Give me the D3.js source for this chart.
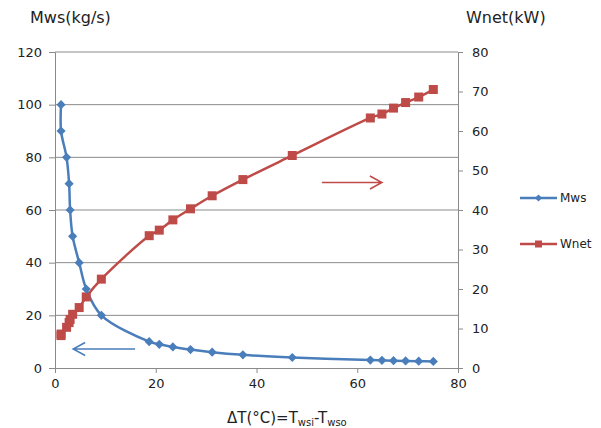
<!DOCTYPE html>
<html>
<head>
<meta charset="utf-8">
<script src="https://cdn.jsdelivr.net/npm/d3@7"></script>
<style>
  body { margin: 0; background: #fff; }
  svg text { font-family: "DejaVu Sans", sans-serif; fill: #222; }
</style>
</head>
<body>
<svg id="chart" width="601" height="428"></svg>
<script>
// values
const dT   = [1.2, 1.2, 2.3, 2.8, 3.0, 3.5, 4.8, 6.2, 9.2, 18.7, 20.7, 23.4, 26.9, 31.2, 37.3, 47.1, 62.6, 64.9, 67.2, 69.6, 72.2, 75.1];
const mws  = [100, 90, 80, 70, 60, 50, 40, 30, 20, 10, 9, 8, 7, 6, 5, 4, 3, 2.9, 2.8, 2.7, 2.6, 2.5];
const wnet = [8.2, 8.6, 10.3, 11.5, 12.3, 13.6, 15.3, 18.0, 22.5, 33.5, 34.9, 37.5, 40.3, 43.6, 47.7, 53.8, 63.3, 64.3, 65.8, 67.2, 68.6, 70.5];
const xTicks = [0, 20, 40, 60, 80];
const leftTicks = [0, 20, 40, 60, 80, 100, 120];
const rightTicks = [0, 10, 20, 30, 40, 50, 60, 70, 80];

const blue = "#4a7ebb";
const red = "#be4b48";
const gridColor = "#8a8a8a";

const svg = d3.select("#chart");
const plotLeft = 55, plotRight = 458, plotTop = 52, plotBottom = 368;

const x = d3.scaleLinear().domain([0, 80]).range([plotLeft, plotRight]);
const yL = d3.scaleLinear().domain([0, 120]).range([plotBottom, plotTop]);
const yR = d3.scaleLinear().domain([0, 80]).range([plotBottom, plotTop]);

// gridlines from the left axis
svg.append("g")
    .selectAll("line")
    .data(leftTicks.filter(d => d > 0))
    .enter()
    .append("line")
    .attr("x1", plotLeft).attr("x2", plotRight)
    .attr("y1", d => yL(d)).attr("y2", d => yL(d))
    .attr("stroke", gridColor).attr("stroke-width", 1);

// axes
const gx = svg.append("g")
    .attr("transform", `translate(0,${plotBottom})`)
    .call(d3.axisBottom(x).tickValues(xTicks).tickSize(5).tickPadding(6));
const gl = svg.append("g")
    .attr("transform", `translate(${plotLeft},0)`)
    .call(d3.axisLeft(yL).tickValues(leftTicks).tickSize(6).tickPadding(7));
const gr = svg.append("g")
    .attr("transform", `translate(${plotRight},0)`)
    .call(d3.axisRight(yR).tickValues(rightTicks).tickSize(5).tickPadding(9));

[gx, gl, gr].forEach(g => {
    g.select(".domain").attr("stroke", gridColor);
    g.selectAll(".tick line").attr("stroke", gridColor);
    g.selectAll(".tick text")
        .style("font-family", "DejaVu Sans, sans-serif")
        .style("font-size", "13px")
        .attr("fill", "#222");
});

// series lines
const lineM = d3.line()
    .x((d, i) => x(dT[i]))
    .y(d => yL(d))
    .curve(d3.curveCatmullRom.alpha(0.5));
const lineW = d3.line()
    .x((d, i) => x(dT[i]))
    .y(d => yR(d))
    .curve(d3.curveCatmullRom.alpha(0.5));

svg.append("path")
    .datum(wnet)
    .attr("d", lineW)
    .attr("fill", "none")
    .attr("stroke", red)
    .attr("stroke-width", 2.5);

svg.append("path")
    .datum(mws)
    .attr("d", lineM)
    .attr("fill", "none")
    .attr("stroke", blue)
    .attr("stroke-width", 2.5);

// markers
svg.append("g")
    .selectAll("rect")
    .data(wnet)
    .enter()
    .append("rect")
    .attr("x", (d, i) => x(dT[i]) - 4.5)
    .attr("y", d => yR(d) - 4.5)
    .attr("width", 9).attr("height", 9)
    .attr("fill", red);

// diamond = square turned 45 degrees
const diamond = d3.symbol().type(d3.symbolSquare).size(42);
svg.append("g")
    .selectAll("path")
    .data(mws)
    .enter()
    .append("path")
    .attr("d", diamond)
    .attr("transform", (d, i) => `translate(${x(dT[i])},${yL(d)}) rotate(45)`)
    .attr("fill", blue);

// arrows
function arrow(x1, x2, y, color) {
    const dir = x2 > x1 ? -1 : 1;
    svg.append("path")
        .attr("d", `M${x1},${y}L${x2},${y}M${x2 + dir * 12},${y - 6.5}L${x2},${y}L${x2 + dir * 12},${y + 6.5}`)
        .attr("fill", "none")
        .attr("stroke", color)
        .attr("stroke-width", 1.5);
}
arrow(x(53), x(64.9), 182.5, red);
arrow(x(15.9), x(3.6), 349, blue);

// axis titles
svg.append("text")
    .attr("x", 30).attr("y", 23)
    .style("font-size", "16px")
    .text("Mws(kg/s)");
svg.append("text")
    .attr("x", 466).attr("y", 23)
    .style("font-size", "16px")
    .text("Wnet(kW)");

const xt = svg.append("text")
    .attr("x", 227).attr("y", 423)
    .style("font-size", "15px");
xt.append("tspan").text("ΔT(°C)=T");
xt.append("tspan").attr("dy", 3).style("font-size", "10px").text("wsi");
xt.append("tspan").attr("dy", -3).text("-T");
xt.append("tspan").attr("dy", 3).style("font-size", "10px").text("wso");

// legend
const legend = [
    { name: "Mws", color: blue, y: 198, shape: "diamond" },
    { name: "Wnet", color: red, y: 244, shape: "square" }
];
const lg = svg.append("g");
legend.forEach(l => {
    lg.append("line")
        .attr("x1", 520).attr("x2", 557)
        .attr("y1", l.y).attr("y2", l.y)
        .attr("stroke", l.color).attr("stroke-width", 2.5);
    if (l.shape === "diamond") {
        lg.append("path")
            .attr("d", d3.symbol().type(d3.symbolSquare).size(26))
            .attr("transform", `translate(538.5,${l.y}) rotate(45)`)
            .attr("fill", l.color);
    } else {
        lg.append("rect")
            .attr("x", 535).attr("y", l.y - 3.5)
            .attr("width", 7).attr("height", 7)
            .attr("fill", l.color);
    }
    lg.append("text")
        .attr("x", 560).attr("y", l.y + 4)
        .style("font-size", "12px")
        .text(l.name);
});
</script>
</body>
</html>
